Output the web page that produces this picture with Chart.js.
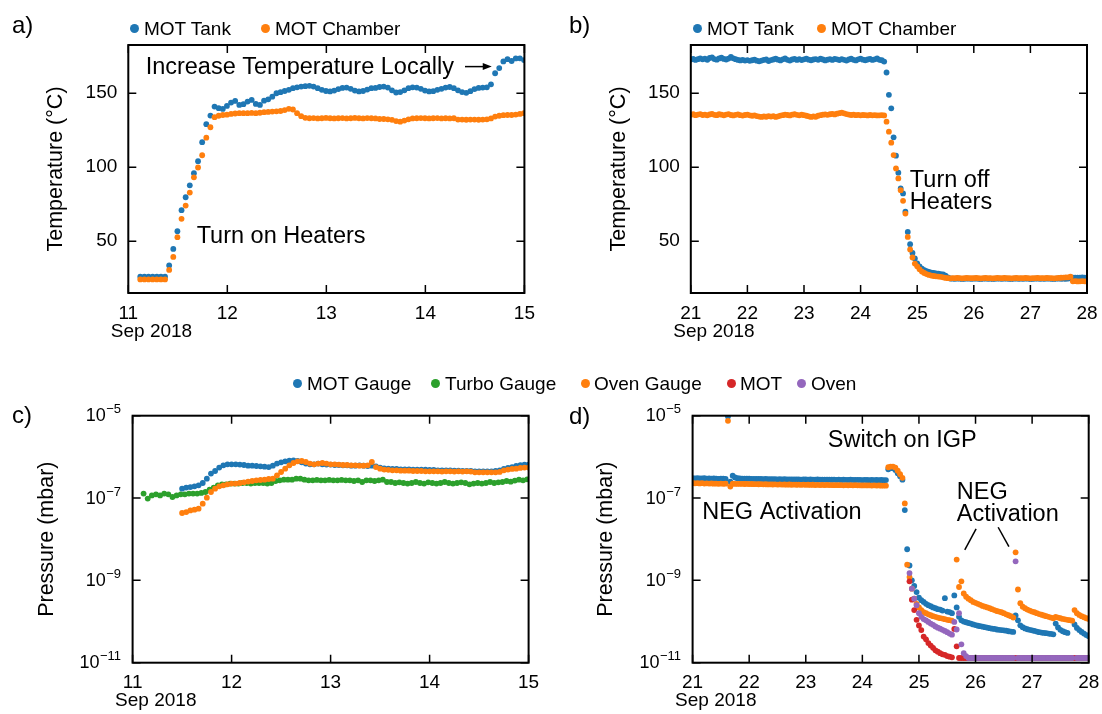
<!DOCTYPE html>
<html>
<head>
<meta charset="utf-8">
<title>Bake-out temperatures and pressures</title>
<script src="https://cdn.jsdelivr.net/npm/chart.js@4.4.1/dist/chart.umd.min.js"></script>
<style>
  body { margin: 0; width: 1102px; height: 714px; position: relative; overflow: hidden; background: #fff;
         font-family: "Liberation Sans", Arial, Helvetica, sans-serif; color: #000; }
  canvas.panel { position: absolute; }
  .tag { position: absolute; font-size: 24px; line-height: 1; }
  .key { position: absolute; font-size: 19px; line-height: 1; white-space: nowrap; }
  .key i { position: absolute; width: 9px; height: 9px; border-radius: 50%; top: 4.8px; }
</style>
</head>
<body>
<canvas id="heatTemp" class="panel" width="550" height="357" style="left:0;top:0"></canvas>
<canvas id="coolTemp" class="panel" width="552" height="357" style="left:550px;top:0"></canvas>
<canvas id="heatPress" class="panel" width="550" height="357" style="left:0;top:357px"></canvas>
<canvas id="coolPress" class="panel" width="552" height="357" style="left:550px;top:357px"></canvas>

<div class="tag" style="left:12px;top:13px">a)</div>
<div class="tag" style="left:569px;top:13px">b)</div>
<div class="tag" style="left:12px;top:403px">c)</div>
<div class="tag" style="left:569px;top:404px">d)</div>

<div class="key" style="left:144px;top:19px"><i style="left:-14.2px;background:#1f77b4"></i>MOT Tank</div>
<div class="key" style="left:275px;top:19px"><i style="left:-14px;background:#ff7f0e"></i>MOT Chamber</div>
<div class="key" style="left:707px;top:19px"><i style="left:-13.6px;background:#1f77b4"></i>MOT Tank</div>
<div class="key" style="left:831px;top:19px"><i style="left:-13.7px;background:#ff7f0e"></i>MOT Chamber</div>

<div class="key" style="left:307px;top:374px"><i style="left:-14px;background:#1f77b4"></i>MOT Gauge</div>
<div class="key" style="left:445px;top:374px"><i style="left:-14.5px;background:#2ca02c"></i>Turbo Gauge</div>
<div class="key" style="left:594px;top:374px"><i style="left:-13.3px;background:#ff7f0e"></i>Oven Gauge</div>
<div class="key" style="left:740px;top:374px"><i style="left:-13.2px;background:#d62728"></i>MOT</div>
<div class="key" style="left:811px;top:374px"><i style="left:-13.7px;background:#9467bd"></i>Oven</div>

<script>
// ======================
// Readings (day of month, one sample per hour)
// ======================

// --- a) heating, temperatures in °C, 11-15 Sep ---
const heatStart = 11.121;
const heatTank = [
  26, 26, 26, 26, 26, 26, 26,
  33.6, 44.8, 56.8, 71, 79.7, 87.8, 96, 104.1, 116.9, 129.1, 134.9,
  141, 139.9, 139.4, 141.4, 143.7, 144.8, 142.1, 142.6, 144.4, 145.5,
  142.8, 142.1, 145, 145.9, 147.7, 150, 150.7, 151.5, 152.3, 153.4,
  154, 154.5, 154.8, 155, 154.5, 153.4, 152.3, 151.5, 151.2, 151.8,
  152.8, 153.6, 153.8, 153, 151.8, 151.2, 151.5, 152.5, 153.4, 153.6,
  154.2, 154.5, 153.8, 152, 150.5, 150.8, 152, 153.4, 154, 153.8,
  153, 151.8, 151.2, 151.4, 152.3, 153, 153.8, 154.2, 153.4, 152,
  150.8, 150.3, 151.4, 152.8, 153.6, 153.8, 154, 156,
  163.5, 167, 171.5, 173, 171.8, 173.5, 173.6, 172.4
];
const heatChamber = [
  24.2, 24.2, 24.2, 24.2, 24.2, 24.2, 24.2,
  30.6, 39.4, 52.7, 65.1, 74.1, 82.9, 93.2, 99.8, 108.1, 120, 127,
  133.8, 134.8, 135.3, 135.5, 136, 136.3, 136.5, 136.5, 136.5, 136.7,
  136.5, 136.8, 137.2, 137.4, 137.6, 137.8, 138, 138.6, 139.5, 139,
  136.5, 134.5, 133.4, 133.1, 133.2, 133, 133.1, 133.3, 133.1, 133,
  133.1, 133.2, 133, 133.1, 133.3, 133.1, 133, 133.2, 133.1, 133,
  132.6, 132.6, 132.4, 132, 131.2, 130.8, 131.5, 132.4, 133, 133.1,
  133.2, 133.1, 133, 133.1, 133.2, 133, 133.1, 133, 133.1, 132.2,
  132.2, 132.1, 132.2, 132.2, 132.1, 132.2, 132.4, 133,
  134.2, 134.8, 135.2, 135.3, 135.3, 135.6, 136, 136.5
];

// --- b) cooling, temperatures in °C, 21-28 Sep ---
const coolStart = 21;
const coolTank = [
  172.8, 173.2, 172.5, 173.0, 173.6, 172.9, 173.4, 172.6, 173.8, 174.2,
  173.1, 172.7, 173.5, 174.0, 173.2, 172.8, 173.4, 174.5, 173.6, 173.0,
  172.5, 172.2, 172.6, 172.1, 172.4, 171.9, 172.3, 172.7, 172.0, 171.6,
  172.1, 172.5, 172.9, 171.8, 172.4, 172.8, 173.3, 172.7, 172.2, 172.9,
  173.5, 172.6, 172.1, 172.8, 173.2, 172.5, 173.0, 172.4, 172.9, 173.4,
  172.7, 172.3, 172.8, 173.1, 172.6, 173.3, 172.8, 172.2, 172.7, 173.0,
  172.5, 173.2, 172.9, 172.4, 173.0, 172.6, 172.1, 172.8, 173.3, 172.6,
  172.2, 172.9, 173.4, 172.7, 172.3, 172.8, 173.2, 172.5, 172.9, 173.5,
  172.6, 172.3,
  171.4, 164, 148.9, 139.8, 120.2, 107.8, 96.3, 85.7, 82.3, 69.9, 56.3, 48, 42.1, 38.3,
  35, 33, 31.5, 30.5, 29.8, 29.2, 28.8, 28.5, 28.2, 28, 27.8, 27.5, 26.8, 25.5, 24.8,
  24.7, 24.6, 24.8, 24.7, 24.5, 24.6, 24.8, 24.7, 24.6, 24.7,
  24.8, 24.6, 24.5, 24.7, 24.8, 24.6, 24.7, 24.5, 24.6, 24.8,
  24.7, 24.6, 24.8, 24.7, 24.6, 24.5, 24.7, 24.8, 24.6, 24.7,
  24.6, 24.8, 24.7, 24.5, 24.6, 24.7, 24.8, 24.6, 24.7, 24.6,
  24.8, 24.7, 24.6, 24.5, 24.7, 24.8, 24.6, 24.7, 24.6, 24.8,
  25.2, 25.4, 25.4, 25.3, 25.4, 25.5, 25.4, 25.4
];
const coolChamber = [
  135.5, 135.8, 135.2, 135.6, 135.9, 135.3, 135.5, 135.1, 135.7, 136.0,
  135.4, 135.2, 135.8, 135.5, 135.1, 135.6, 135.9, 135.3, 135.0, 135.4,
  135.7, 135.2, 134.9, 135.3, 135.6, 135.1, 134.8, 135.0, 134.6, 134.2,
  134.0, 134.3, 134.1, 134.5, 134.2, 134.6, 134.0, 134.4, 134.9, 135.2,
  135.6, 135.3, 135.0, 135.5, 135.8, 135.4, 135.1, 135.5, 135.2, 134.8,
  134.4, 134.0, 134.3, 134.1, 134.8, 135.2, 135.5, 135.7, 135.4, 135.8,
  136.0, 135.7, 136.2, 136.5, 136.9, 136.4, 135.9, 135.6, 135.3, 135.5,
  135.2, 135.4, 135.1, 135.3, 135.2, 135.0, 135.3, 135.1, 135.2, 135.0,
  135.1, 135.2,
  135.0, 130.8, 124, 116.6, 108.2, 99.2, 92.4, 84.5, 77.3, 68.7, 52.9, 44.4, 39, 34.9,
  33, 31, 29.5, 28.5, 27.8, 27.2, 26.8, 26.5, 26.3, 26.1, 25.9, 25.6, 25.2, 25.0, 24.9,
  25.1, 25.0, 25.2, 25.1, 24.9, 25.0, 25.2, 25.1, 25.0, 25.1,
  25.2, 25.0, 24.9, 25.1, 25.2, 25.0, 25.1, 24.9, 25.0, 25.2,
  25.1, 25.0, 25.2, 25.1, 25.0, 24.9, 25.1, 25.2, 25.0, 25.1,
  25.0, 25.2, 25.1, 24.9, 25.0, 25.1, 25.2, 25.0, 25.1, 25.0,
  25.2, 25.1, 25.0, 24.9, 25.1, 25.2, 25.3, 25.4, 25.5, 25.6,
  26.0,
  22.9, 23, 22.8, 22.9, 23, 22.9, 22.8
];

// --- c) heating, pressures in mbar ---
const turboStart = 11.111;
const turboGauge = [
  1.28e-7, 9.7e-8, 1.16e-7, 1.23e-7, 1.16e-7, 1.28e-7, 1.23e-7, 1.06e-7, 1.16e-7, 1.23e-7,
  1.23e-7, 1.28e-7, 1.28e-7, 1.28e-7, 1.33e-7, 1.4e-7, 1.6e-7, 1.78e-7, 2.04e-7, 2.15e-7,
  2.15e-7, 2.24e-7, 2.24e-7, 2.24e-7, 2.32e-7, 2.32e-7, 2.24e-7, 2.32e-7, 2.32e-7, 2.32e-7,
  2.24e-7, 2.32e-7, 2.59e-7, 2.69e-7, 2.8e-7, 2.8e-7, 2.8e-7, 2.96e-7, 2.96e-7, 2.8e-7,
  2.69e-7, 2.69e-7, 2.75e-7, 2.69e-7, 2.69e-7, 2.75e-7, 2.69e-7, 2.69e-7, 2.75e-7, 2.69e-7,
  2.69e-7, 2.59e-7, 2.69e-7, 2.45e-7, 2.69e-7, 2.69e-7, 2.59e-7, 2.69e-7, 2.8e-7, 2.45e-7,
  2.45e-7, 2.32e-7, 2.41e-7, 2.32e-7, 2.24e-7, 2.32e-7, 2.45e-7, 2.32e-7, 2.24e-7, 2.41e-7,
  2.32e-7, 2.24e-7, 2.32e-7, 2.45e-7, 2.32e-7, 2.24e-7, 2.32e-7, 2.41e-7, 2.32e-7, 2.15e-7,
  2.24e-7, 2.32e-7, 2.24e-7, 2.32e-7, 2.45e-7, 2.32e-7, 2.41e-7, 2.45e-7, 2.59e-7, 2.5e-7,
  2.65e-7, 2.8e-7, 2.7e-7, 2.85e-7
];
const gaugeStart = 11.5;
const motGaugeHeat = [
  1.69e-7, 1.79e-7, 1.85e-7, 1.92e-7, 2.04e-7, 2.32e-7, 2.96e-7, 3.92e-7, 4.53e-7, 5.48e-7,
  6.24e-7, 6.6e-7, 6.6e-7, 6.6e-7, 6.48e-7, 6.35e-7, 6.12e-7, 6.12e-7, 6.0e-7, 5.9e-7,
  5.79e-7, 5.66e-7, 6.12e-7, 6.86e-7, 7.38e-7, 7.8e-7, 8.1e-7, 8.24e-7, 7.93e-7, 7.38e-7,
  6.86e-7, 6.6e-7, 6.6e-7, 6.86e-7, 6.6e-7, 6.48e-7, 6.48e-7, 6.35e-7, 6.35e-7, 6.24e-7,
  6.24e-7, 6.12e-7, 6.12e-7, 6.24e-7, 6.12e-7, 6.0e-7, 6.12e-7, 5.9e-7, 5.48e-7, 5.25e-7,
  5.17e-7, 5.1e-7, 5.1e-7, 4.98e-7, 4.98e-7, 4.98e-7, 4.9e-7, 4.9e-7, 4.9e-7, 4.9e-7,
  4.85e-7, 4.85e-7, 4.71e-7, 4.71e-7, 4.71e-7, 4.71e-7, 4.62e-7, 4.62e-7, 4.53e-7, 4.53e-7,
  4.53e-7, 4.46e-7, 4.46e-7, 4.46e-7, 4.46e-7, 4.46e-7, 4.53e-7, 4.71e-7, 5.1e-7, 5.36e-7,
  5.66e-7, 6.0e-7, 6.3e-7, 6.5e-7, 6.5e-7
];
const ovenGaugeHeat = [
  4.33e-8, 4.57e-8, 5.0e-8, 5.22e-8, 5.52e-8, 7.31e-8, 1.02e-7, 1.4e-7, 1.69e-7, 1.92e-7,
  2.04e-7, 2.15e-7, 2.24e-7, 2.24e-7, 2.32e-7, 2.41e-7, 2.51e-7, 2.59e-7, 2.69e-7, 2.74e-7,
  2.8e-7, 2.9e-7, 2.95e-7, 3.56e-7, 4.29e-7, 5.17e-7, 6.24e-7, 7.1e-7, 7.8e-7, 7.93e-7,
  7.5e-7, 6.86e-7, 6.6e-7, 6.86e-7, 7.1e-7, 6.86e-7, 6.6e-7, 6.6e-7, 6.48e-7, 6.35e-7,
  6.35e-7, 6.24e-7, 6.24e-7, 6.12e-7, 6.12e-7, 6.24e-7, 7.5e-7, 5.66e-7, 5.17e-7, 4.9e-7,
  4.85e-7, 4.71e-7, 4.71e-7, 4.62e-7, 4.62e-7, 4.62e-7, 4.53e-7, 4.53e-7, 4.53e-7, 4.46e-7,
  4.46e-7, 4.46e-7, 4.46e-7, 4.4e-7, 4.46e-7, 4.46e-7, 4.4e-7, 4.46e-7, 4.4e-7, 4.46e-7,
  4.4e-7, 4.22e-7, 4.22e-7, 4.22e-7, 4.22e-7, 4.22e-7, 4.22e-7, 4.3e-7, 4.71e-7, 4.9e-7,
  5.1e-7, 5.17e-7, 5.4e-7, 5.5e-7, 5.5e-7
];

// --- d) cooling, pressures in mbar (null = no reading) ---
const coolPressStart = 21;
const motGaugeCool = [
  3.05e-7, 3.0e-7, 3.05e-7, 3.0e-7, 2.98e-7, 3.02e-7, 2.97e-7, 3.0e-7, 2.95e-7, 2.98e-7,
  2.96e-7, 2.93e-7, 2.97e-7, 2.94e-7, 2.92e-7,
  9.5e-6, 2.5e-7, 3.5e-7, 3.15e-7,
  3.02e-7, 2.98e-7, 2.96e-7, 2.97e-7, 2.94e-7, 2.95e-7, 2.92e-7, 2.93e-7, 2.9e-7, 2.92e-7,
  2.9e-7, 2.88e-7, 2.9e-7, 2.87e-7, 2.89e-7, 2.86e-7, 2.88e-7, 2.85e-7, 2.87e-7, 2.84e-7,
  2.86e-7, 2.83e-7, 2.85e-7, 2.84e-7, 2.82e-7, 2.85e-7, 2.83e-7, 2.81e-7, 2.84e-7, 2.82e-7,
  2.8e-7, 2.83e-7, 2.81e-7, 2.79e-7, 2.82e-7, 2.8e-7, 2.78e-7, 2.81e-7, 2.79e-7, 2.8e-7,
  2.78e-7, 2.8e-7, 2.77e-7, 2.79e-7, 2.76e-7, 2.78e-7, 2.77e-7, 2.75e-7, 2.78e-7, 2.76e-7,
  2.74e-7, 2.77e-7, 2.75e-7, 2.73e-7, 2.76e-7, 2.74e-7, 2.72e-7, 2.75e-7, 2.73e-7, 2.74e-7,
  2.72e-7, 2.74e-7, 2.71e-7, 2.73e-7,
  5.0e-7, 5.3e-7, 5.3e-7, 4.8e-7, 4.0e-7, 3.4e-7, 2.8e-7,
  5.1e-8,
  5.7e-9, 2.3e-9, 1.0e-9, 7.3e-10, 5.2e-10, 3.8e-10, 3.3e-10, 3.0e-10, 2.7e-10, 2.5e-10,
  2.35e-10, 2.2e-10, 2.1e-10, 2.0e-10, 1.95e-10, 1.85e-10, 3.7e-10, 1.75e-10, 1.7e-10, 1.6e-10,
  4.3e-10, 2.2e-10, 1.3e-10, 1.07e-10, 1.0e-10, 9.6e-11, 9.2e-11, 8.9e-11, 8.5e-11, 8.2e-11,
  7.9e-11, 7.7e-11, 7.5e-11, 7.3e-11, 7.1e-11, 6.9e-11, 6.7e-11, 6.6e-11, 6.4e-11, 6.3e-11,
  6.2e-11, 6.1e-11, 6.0e-11, 5.8e-11, 5.7e-11, 5.6e-11,
  1.4e-10, 1.07e-10, 8.1e-11, 7.3e-11, 6.8e-11, 6.5e-11, 6.3e-11, 6.1e-11, 5.9e-11, 5.7e-11,
  5.5e-11, 5.4e-11, 5.3e-11, 5.2e-11, 5.1e-11, 5.0e-11, 4.9e-11,
  8.9e-11, 7.2e-11, 6.3e-11, 5.8e-11, 5.5e-11, 5.3e-11,
  null, null,
  8.5e-11, 7.0e-11, 6.2e-11, 5.6e-11, 5.1e-11, 4.7e-11, 4.4e-11
];
const ovenGaugeCool = [
  2.32e-7, 2.28e-7, 2.3e-7, 2.27e-7, 2.29e-7, 2.25e-7, 2.28e-7, 2.24e-7, 2.26e-7, 2.23e-7,
  2.25e-7, 2.22e-7, 2.24e-7, 2.21e-7, 2.23e-7,
  7.5e-6, 1.9e-7, 2.25e-7, 2.2e-7,
  2.22e-7, 2.2e-7, 2.21e-7, 2.19e-7, 2.2e-7, 2.18e-7, 2.19e-7, 2.17e-7, 2.18e-7, 2.16e-7,
  2.17e-7, 2.15e-7, 2.16e-7, 2.14e-7, 2.15e-7, 2.13e-7, 2.15e-7, 2.12e-7, 2.14e-7, 2.12e-7,
  2.13e-7, 2.11e-7, 2.13e-7, 2.1e-7, 2.12e-7, 2.1e-7, 2.11e-7, 2.09e-7, 2.11e-7, 2.09e-7,
  2.1e-7, 2.08e-7, 2.1e-7, 2.07e-7, 2.09e-7, 2.07e-7, 2.08e-7, 2.06e-7, 2.08e-7, 2.06e-7,
  2.07e-7, 2.05e-7, 2.07e-7, 2.05e-7, 2.06e-7, 2.04e-7, 2.06e-7, 2.04e-7, 2.05e-7, 2.03e-7,
  2.05e-7, 2.03e-7, 2.04e-7, 2.02e-7, 2.04e-7, 2.02e-7, 2.03e-7, 2.01e-7, 2.03e-7, 2.01e-7,
  2.02e-7, 2.0e-7, 2.01e-7, 2.0e-7,
  5.6e-7, 5.8e-7, 5.8e-7, 5.5e-7, 4.6e-7, 3.8e-7, 3.1e-7,
  7.4e-8,
  2.4e-9, 1.2e-9, 6.3e-10, 3.6e-10, 2.7e-10, 2.2e-10, 1.9e-10, 1.7e-10, 1.6e-10, 1.5e-10,
  1.42e-10, 1.35e-10, 1.3e-10, 1.25e-10, 1.21e-10, 1.18e-10, 1.14e-10, 1.1e-10, 1.08e-10, 1.05e-10,
  null,
  3.2e-9, 6.9e-10, 9.5e-10, 4.8e-10, 4.0e-10, 3.6e-10, 3.3e-10, 3.0e-10, 2.85e-10,
  2.7e-10, 2.55e-10, 2.4e-10, 2.3e-10, 2.2e-10, 2.1e-10, 2.0e-10, 1.9e-10, 1.8e-10, 1.75e-10,
  1.68e-10, 1.6e-10, 1.5e-10, 1.42e-10, 1.35e-10, 1.25e-10,
  4.8e-9, 6.0e-10, 2.8e-10, 2.3e-10, 2.1e-10, 1.95e-10, 1.85e-10, 1.75e-10, 1.68e-10, 1.6e-10,
  1.52e-10, 1.46e-10, 1.4e-10, 1.35e-10, 1.3e-10, 1.25e-10, 1.2e-10,
  1.3e-10, 1.25e-10, 1.2e-10, 1.16e-10, 1.13e-10, 1.1e-10, 1.08e-10, 1.05e-10,
  1.9e-10, 1.6e-10, 1.45e-10, 1.35e-10, 1.27e-10, 1.2e-10, 1.15e-10
];
// ion pump readings only start once the pumps are switched on
const ionStart = 21 + 92 / 24;
const motIon = [
  9.5e-10, 3.4e-10, 1.9e-10, 1.1e-10, 8.0e-11, 6.2e-11, 4.3e-11, 3.7e-11, 3.0e-11, 2.6e-11,
  2.3e-11, 2.0e-11, 1.85e-11, 1.7e-11, 1.6e-11, 1.55e-11, 1.45e-11, 1.4e-11, 1.35e-11, 6.6e-11,
  2.5e-11, 1.3e-11,
  1.3e-11, 1.3e-11, 1.3e-11, 1.3e-11, 1.3e-11, 1.3e-11, 1.3e-11, 1.3e-11, 1.3e-11, 1.3e-11,
  1.3e-11, 1.3e-11, 1.3e-11, 1.3e-11, 1.3e-11, 1.3e-11, 1.3e-11, 1.3e-11, 1.3e-11, 1.3e-11,
  1.3e-11, 1.3e-11, 1.3e-11, 1.3e-11, 1.3e-11, 1.3e-11, 1.3e-11, 1.3e-11, 1.3e-11, 1.3e-11,
  1.3e-11, 1.3e-11, 1.3e-11, 1.3e-11, 1.3e-11, 1.3e-11, 1.3e-11, 1.3e-11, 1.3e-11, 1.3e-11,
  1.3e-11, 1.3e-11, 1.3e-11, 1.3e-11, 1.3e-11, 1.3e-11, 1.3e-11, 1.3e-11, 1.3e-11, 1.3e-11,
  1.3e-11, 1.3e-11, 1.3e-11, 1.3e-11, 1.3e-11
];
const ovenIon = [
  1.5e-9, 6.3e-10, 3.6e-10, 2.5e-10, 1.6e-10, 1.3e-10, 1.15e-10, 1.07e-10, 9.8e-11, 8.9e-11,
  8.3e-11, 7.6e-11, 7.1e-11, 6.7e-11, 6.3e-11, 5.9e-11, 5.5e-11, 5.1e-11, 4.8e-11, 9.8e-11,
  6.4e-11, 1.6e-10, 2.8e-11, 1.7e-11, 1.45e-11,
  1.3e-11, 1.3e-11, 1.3e-11, 1.3e-11, 1.3e-11, 1.3e-11, 1.3e-11, 1.3e-11, 1.3e-11, 1.3e-11,
  1.3e-11, 1.3e-11, 1.3e-11, 1.3e-11, 1.3e-11, 1.3e-11, 1.3e-11, 1.3e-11, 1.3e-11, 1.3e-11,
  2.9e-9,
  1.3e-11, 1.3e-11, 1.3e-11, 1.3e-11, 1.3e-11, 1.3e-11, 1.3e-11, 1.3e-11, 1.3e-11, 1.3e-11,
  1.3e-11, 1.3e-11, 1.3e-11, 1.3e-11, 1.3e-11, 1.3e-11, 1.3e-11, 1.3e-11, 1.3e-11, 1.3e-11,
  1.3e-11, 1.3e-11, 1.3e-11, 1.3e-11,
  null,
  1.3e-11, 1.3e-11, 1.3e-11, 1.3e-11, 1.3e-11, 1.3e-11
];

// ---------- tick values ----------
const heatDays = [11, 12, 13, 14, 15];
const coolDays = [21, 22, 23, 24, 25, 26, 27, 28];
const tempTicks = [50, 100, 150];
const pressTicks = [1e-11, 1e-9, 1e-7, 1e-5];

const BLUE = '#1f77b4', ORANGE = '#ff7f0e', GREEN = '#2ca02c', RED = '#d62728', PURPLE = '#9467bd';
const FONT = '"Liberation Sans", Arial, Helvetica, sans-serif';
Chart.defaults.font.family = FONT;
Chart.defaults.color = '#000';

// hourly samples -> {x: day, y: value}
const hourly = (start, vals) => vals.map((v, i) => ({ x: start + i / 24, y: v }));

// ======================
// Box, inward ticks, month label, notes
// ======================
function frame(extra) {
  return {
    id: 'frame',
    afterDraw(chart) {
      const { ctx, chartArea: area, scales: { x, y } } = chart;
      ctx.save();
      ctx.strokeStyle = '#000';
      ctx.lineWidth = 1.5;
      ctx.beginPath();
      for (const t of x.ticks) {
        const px = x.getPixelForValue(t.value);
        ctx.moveTo(px, area.bottom); ctx.lineTo(px, area.bottom - 8);
        ctx.moveTo(px, area.top); ctx.lineTo(px, area.top + 8);
      }
      for (const t of y.ticks) {
        const py = y.getPixelForValue(t.value);
        ctx.moveTo(area.left, py); ctx.lineTo(area.left + 8, py);
        ctx.moveTo(area.right, py); ctx.lineTo(area.right - 8, py);
      }
      ctx.stroke();
      ctx.lineWidth = 2;
      ctx.strokeRect(area.left, area.top, area.right - area.left, area.bottom - area.top);

      ctx.fillStyle = '#000';
      ctx.textBaseline = 'middle';
      ctx.textAlign = 'left';
      ctx.font = '19px ' + FONT;
      ctx.fillText('Sep 2018', area.left - 17.5, area.bottom + 38.5);

      // 10^n labels for the log axis
      if (extra.powers) {
        const right = area.left - 11.5;
        for (const t of y.ticks) {
          const py = y.getPixelForValue(t.value);
          const exp = '\u2212' + Math.abs(Math.round(Math.log10(t.value)));
          ctx.textAlign = 'right';
          ctx.font = '13px ' + FONT;
          ctx.fillText(exp, right, py - 6);
          const w = ctx.measureText(exp).width;
          ctx.font = '18px ' + FONT;
          ctx.fillText('10', right - w - 0.5, py + 0.5);
        }
      }

      ctx.textAlign = 'left';
      ctx.font = '23.5px ' + FONT;
      for (const n of extra.notes || []) {
        const px = x.getPixelForValue(n.x), py = y.getPixelForValue(n.y);
        n.text.forEach((line, i) => ctx.fillText(line, px, py + i * (n.gap || 0)));
      }
      ctx.lineWidth = 1.5;
      for (const l of extra.leaders || []) {
        ctx.beginPath();
        ctx.moveTo(x.getPixelForValue(l[0]), y.getPixelForValue(l[1]));
        ctx.lineTo(x.getPixelForValue(l[2]), y.getPixelForValue(l[3]));
        ctx.stroke();
      }
      if (extra.arrow) {
        const a = extra.arrow;
        const x0 = x.getPixelForValue(a.from), x1 = x.getPixelForValue(a.to), py = y.getPixelForValue(a.y);
        ctx.beginPath();
        ctx.moveTo(x0, py); ctx.lineTo(x1 - 6, py);
        ctx.stroke();
        ctx.beginPath();
        ctx.moveTo(x1, py); ctx.lineTo(x1 - 9, py - 3.5); ctx.lineTo(x1 - 9, py + 3.5);
        ctx.closePath();
        ctx.fill();
      }
      ctx.restore();
    }
  };
}

// ======================
// One panel = one scatter chart with a fixed plot box
// ======================
function panel(id, cfg) {
  const days = cfg.days;
  const yAxis = {
    grid: { display: false, drawTicks: false },
    border: { display: false },
    title: { display: true, text: cfg.title, font: { size: 21.5 }, padding: { top: cfg.titleX - 12.9, bottom: 0 } },
    afterFit: s => { s.width = cfg.axisW; s.paddingTop = 0; s.paddingBottom = 0; }
  };
  if (cfg.log) {
    Object.assign(yAxis, {
      type: 'logarithmic', min: 1e-11, max: 1e-5,
      ticks: { display: false },
      afterBuildTicks: s => { s.ticks = pressTicks.map(v => ({ value: v })); }
    });
  } else {
    Object.assign(yAxis, {
      type: 'linear', min: 15, max: 182.6,
      ticks: { padding: 11, font: { size: 19 } },
      afterBuildTicks: s => { s.ticks = tempTicks.map(v => ({ value: v })); }
    });
  }

  return new Chart(document.getElementById(id), {
    type: 'scatter',
    data: {
      datasets: cfg.series.map((s, i) => ({
        label: s.label,
        data: s.data,
        backgroundColor: s.color,
        borderWidth: 0,
        pointRadius: 2.9,
        pointHoverRadius: 2.9,
        order: -i
      }))
    },
    options: {
      animation: false,
      responsive: false,
      devicePixelRatio: 1,
      events: [],
      layout: { padding: { left: 0, top: cfg.top, right: cfg.right, bottom: 0 } },
      plugins: { legend: { display: false }, tooltip: { enabled: false } },
      scales: {
        x: {
          type: 'linear', min: days[0], max: days[days.length - 1],
          grid: { display: false, drawTicks: false },
          border: { display: false },
          ticks: { autoSkip: false, maxRotation: 0, padding: 9, font: { size: 19 } },
          afterBuildTicks: s => { s.ticks = days.map(v => ({ value: v })); },
          afterFit: s => { s.height = cfg.bottomH; s.paddingLeft = 0; s.paddingRight = 0; }
        },
        y: yAxis
      }
    },
    plugins: [frame(cfg.extra || {})]
  });
}

// a) heating temperatures
panel('heatTemp', {
  days: heatDays, title: 'Temperature (°C)', titleX: 56.1,
  top: 45, right: 25.6, axisW: 128.3, bottomH: 64,
  series: [
    { label: 'MOT Tank', color: BLUE, data: hourly(heatStart, heatTank) },
    { label: 'MOT Chamber', color: ORANGE, data: hourly(heatStart, heatChamber) }
  ],
  extra: {
    notes: [
      { text: ['Increase Temperature Locally'], x: 11.175, y: 167.3 },
      { text: ['Turn on Heaters'], x: 11.69, y: 53 }
    ],
    arrow: { from: 14.40, to: 14.67, y: 168 }
  }
});

// b) cooling temperatures
panel('coolTemp', {
  days: coolDays, title: 'Temperature (°C)', titleX: 68.7,
  top: 45, right: 15, axisW: 140.8, bottomH: 64,
  series: [
    { label: 'MOT Tank', color: BLUE, data: hourly(coolStart, coolTank) },
    { label: 'MOT Chamber', color: ORANGE, data: hourly(coolStart, coolChamber) }
  ],
  extra: {
    notes: [{ text: ['Turn off', 'Heaters'], x: 24.87, y: 91, gap: 21.6 }]
  }
});

// c) heating pressures
panel('heatPress', {
  days: heatDays, title: 'Pressure (mbar)', titleX: 47.4, log: true,
  top: 58.7, right: 21.4, axisW: 132.6, bottomH: 51.3,
  series: [
    { label: 'MOT Gauge', color: BLUE, data: hourly(gaugeStart, motGaugeHeat) },
    { label: 'Turbo Gauge', color: GREEN, data: hourly(turboStart, turboGauge) },
    { label: 'Oven Gauge', color: ORANGE, data: hourly(gaugeStart, ovenGaugeHeat) }
  ],
  extra: { powers: true }
});

// d) cooling pressures
panel('coolPress', {
  days: coolDays, title: 'Pressure (mbar)', titleX: 56.3, log: true,
  top: 58.7, right: 13.3, axisW: 142.6, bottomH: 51.3,
  series: [
    { label: 'MOT Gauge', color: BLUE, data: hourly(coolPressStart, motGaugeCool) },
    { label: 'Oven Gauge', color: ORANGE, data: hourly(coolPressStart, ovenGaugeCool) },
    { label: 'MOT', color: RED, data: hourly(ionStart, motIon) },
    { label: 'Oven', color: PURPLE, data: hourly(ionStart, ovenIon) }
  ],
  extra: {
    powers: true,
    notes: [
      { text: ['Switch on IGP'], x: 23.39, y: 2.43e-6 },
      { text: ['NEG Activation'], x: 21.17, y: 4.5e-8 },
      { text: ['NEG', 'Activation'], x: 25.67, y: 1.36e-7, gap: 22.3 }
    ],
    leaders: [
      [26.01, 1.78e-8, 25.81, 5.5e-9],
      [26.40, 1.95e-8, 26.59, 6.6e-9]
    ]
  }
});
</script>
</body>
</html>
